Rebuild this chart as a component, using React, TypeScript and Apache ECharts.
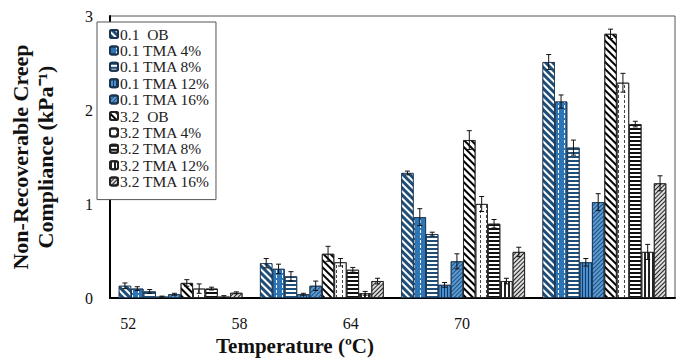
import React, { useEffect, useRef } from "react";
import * as echarts from "echarts";

const categories = ["52", "58", "64", "70"];
const seriesNames = [
  "0.1  OB", "0.1 TMA 4%", "0.1 TMA 8%", "0.1 TMA 12%", "0.1 TMA 16%",
  "3.2  OB", "3.2 TMA 4%", "3.2 TMA 8%", "3.2 TMA 12%", "3.2 TMA 16%",
];
// values per series, for temperatures 52, 58, 64, 70
const v01OB = [0.13, 0.37, 1.33, 2.51];
const v01TMA4 = [0.1, 0.31, 0.86, 2.09];
const v01TMA8 = [0.07, 0.23, 0.68, 1.6];
const v01TMA12 = [0.015, 0.04, 0.14, 0.38];
const v01TMA16 = [0.04, 0.13, 0.39, 1.02];
const v32OB = [0.16, 0.47, 1.68, 2.81];
const v32TMA4 = [0.1, 0.38, 1.0, 2.29];
const v32TMA8 = [0.1, 0.3, 0.79, 1.85];
const v32TMA12 = [0.015, 0.05, 0.18, 0.49];
const v32TMA16 = [0.055, 0.18, 0.49, 1.22];
// error (standard deviation) per series
const e01OB = [0.03, 0.05, 0.02, 0.08];
const e01TMA4 = [0.02, 0.05, 0.09, 0.07];
const e01TMA8 = [0.02, 0.05, 0.02, 0.08];
const e01TMA12 = [0.005, 0.01, 0.025, 0.04];
const e01TMA16 = [0.01, 0.05, 0.08, 0.09];
const e32OB = [0.035, 0.08, 0.1, 0.05];
const e32TMA4 = [0.05, 0.04, 0.08, 0.1];
const e32TMA8 = [0.015, 0.025, 0.045, 0.03];
const e32TMA12 = [0.01, 0.02, 0.03, 0.08];
const e32TMA16 = [0.01, 0.03, 0.05, 0.08];

const values = [v01OB, v01TMA4, v01TMA8, v01TMA12, v01TMA16, v32OB, v32TMA4, v32TMA8, v32TMA12, v32TMA16];
const errors = [e01OB, e01TMA4, e01TMA8, e01TMA12, e01TMA16, e32OB, e32TMA4, e32TMA8, e32TMA12, e32TMA16];

const yTicks = [0, 1, 2, 3];

const NAVY = "#1f4e79";
const BLUE = "#2e75b6";
const LIGHT = "#5b9bd5";
const D = Math.PI / 4;

const styles: any[] = [
  { color: NAVY, borderColor: "#1a3550", decal: { symbol: "rect", color: "#ffffff", dashArrayX: [1, 0], dashArrayY: [2, 3], rotation: D } },
  { color: BLUE, borderColor: "#1a3550", decal: { symbol: "rect", color: "#ffffff", dashArrayX: [1, 5], dashArrayY: [3, 2], rotation: 0 } },
  { color: "#ffffff", borderColor: "#1a3550", decal: { symbol: "rect", color: NAVY, dashArrayX: [1, 0], dashArrayY: [2, 1.5], rotation: 0 } },
  { color: "#4a8fd0", borderColor: "#1a3550", decal: { symbol: "rect", color: "#123a63", dashArrayX: [1, 2], dashArrayY: [1, 0], rotation: 0 } },
  { color: LIGHT, borderColor: "#1a3550", decal: { symbol: "rect", color: NAVY, dashArrayX: [1, 0], dashArrayY: [1, 2], rotation: -D } },
  { color: "#ffffff", borderColor: "#222", decal: { symbol: "rect", color: "#000000", dashArrayX: [1, 0], dashArrayY: [2, 3], rotation: D } },
  { color: "#ffffff", borderColor: "#222", decal: { symbol: "rect", color: "#444", dashArrayX: [1, 5], dashArrayY: [3, 2], rotation: 0 } },
  { color: "#ffffff", borderColor: "#222", decal: { symbol: "rect", color: "#111", dashArrayX: [1, 0], dashArrayY: [1.5, 2], rotation: 0 } },
  { color: "#ffffff", borderColor: "#222", decal: { symbol: "rect", color: "#222", dashArrayX: [1.2, 2], dashArrayY: [1, 0], rotation: 0 } },
  { color: "#dddddd", borderColor: "#222", decal: { symbol: "rect", color: "#222", dashArrayX: [1, 0], dashArrayY: [1, 1.5], rotation: -D } },
];

const CAT_GAP = 0.124;

export default function App() {
  const ref = useRef<HTMLDivElement>(null);
  useEffect(() => {
    const chart = echarts.init(ref.current!, null, { renderer: "svg" });
    const font = "Liberation Serif";
    const barSeries = seriesNames.map((name, i) => ({
      name,
      type: "bar",
      xAxisIndex: 0,
      yAxisIndex: 0,
      data: values[i],
      barGap: "0%",
      barCategoryGap: CAT_GAP * 100 + "%",
      itemStyle: { ...styles[i], borderWidth: 0.8 },
      emphasis: { disabled: true },
    }));
    const errData: any[] = [];
    values.forEach((arr, s) => arr.forEach((v, c) => errData.push([c, s, v, errors[s][c]])));
    const errSeries = {
      type: "custom",
      name: "err",
      xAxisIndex: 0,
      yAxisIndex: 0,
      z: 10,
      silent: true,
      encode: { x: 0, y: 2 },
      data: errData,
      renderItem: (params: any, api: any) => {
        const cat = api.value(0);
        const s = api.value(1);
        const v = api.value(2);
        const e = api.value(3);
        const c = api.coord([cat, v]);
        const catW = api.size([1, 0])[0];
        const groupW = catW * (1 - CAT_GAP);
        const bw = groupW / 10;
        const x = c[0] - groupW / 2 + (s + 0.5) * bw;
        const yT = api.coord([cat, v + e])[1];
        const yB = api.coord([cat, Math.max(0, v - e)])[1];
        const st = { stroke: "#111", lineWidth: 1 };
        return {
          type: "group",
          children: [
            { type: "line", shape: { x1: x, y1: yT, x2: x, y2: yB }, style: st },
            { type: "line", shape: { x1: x - 2.5, y1: yT, x2: x + 2.5, y2: yT }, style: st },
            { type: "line", shape: { x1: x - 2.5, y1: yB, x2: x + 2.5, y2: yB }, style: st },
          ],
        };
      },
    };
    chart.setOption({
      animation: false,
      backgroundColor: "#ffffff",
      textStyle: { fontFamily: font },
      grid: [
        { left: 95, right: 6, top: 16, bottom: 64, show: true, borderColor: "#555", borderWidth: 1 },
        { left: 72.5, width: 445, top: 16, bottom: 64, show: false },
      ],
      legend: {
        data: seriesNames,
        orient: "vertical",
        left: 97,
        top: 22,
        itemWidth: 8,
        itemHeight: 8,
        itemGap: 0.4,
        padding: [4, 6, 10, 12],
        borderColor: "#555",
        borderWidth: 1,
        backgroundColor: "#ffffff",
        textStyle: { fontFamily: font, fontSize: 15.5, color: "#222", lineHeight: 15, padding: [0, 0, 0, -3] },
        selectedMode: false,
      },
      xAxis: [
        {
          type: "category",
          gridIndex: 0,
          data: categories,
          axisLine: { show: true, lineStyle: { color: "#000", width: 2 } },
          axisTick: { show: false },
          axisLabel: { show: false },
        },
        {
          type: "category",
          gridIndex: 1,
          data: categories,
          axisLine: { show: false },
          axisTick: { show: false },
          axisLabel: { fontFamily: font, fontSize: 16, color: "#111", margin: 17 },
          name: "Temperature (ºC)",
          nameLocation: "middle",
          nameGap: 35,
          nameTextStyle: { fontFamily: font, fontSize: 21, fontWeight: "bold", color: "#111" },
        },
      ],
      yAxis: [
        {
          type: "value",
          gridIndex: 0,
          min: yTicks[0],
          max: yTicks[yTicks.length - 1],
          interval: 1,
          axisLine: { show: true, lineStyle: { color: "#000", width: 2 } },
          axisTick: { show: false },
          splitLine: { show: false },
          axisLabel: { fontFamily: font, fontSize: 16, color: "#111", margin: 17 },
          name: "Non-Recoverable Creep\nCompliance (kPa⁻¹)",
          nameLocation: "middle",
          nameGap: 52,
          nameRotate: 90,
          nameTextStyle: { fontFamily: font, fontSize: 22, fontWeight: "bold", color: "#111", lineHeight: 25 },
        },
        { type: "value", gridIndex: 1, min: 0, max: 3, show: false },
      ],
      series: [...barSeries, errSeries],
    });
    return () => chart.dispose();
  }, []);
  return <div ref={ref} style={{ width: 681, height: 362, position: "absolute", left: 0, top: 0 }} />;
}
